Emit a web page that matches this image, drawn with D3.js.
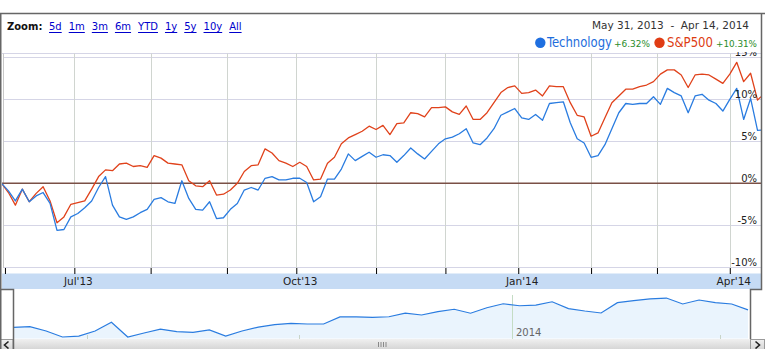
<!DOCTYPE html>
<html>
<head>
<meta charset="utf-8">
<script src="https://cdn.jsdelivr.net/npm/d3@7"></script>
<style>
  html, body { margin: 0; padding: 0; background: #fff; overflow: hidden; }
  svg { display: block; }
</style>
</head>
<body>
<svg id="chart" width="765" height="349"></svg>
<script>
(function () {
  'use strict';

  // --- data -----------------------------------------------------------------
  const START = '2013-05-31';
  const END = '2014-04-14';
  // market closures in the window (no point drawn on these days)
  const HOLIDAYS = ['2013-07-04', '2013-09-02', '2013-11-28', '2013-12-25',
                    '2014-01-01', '2014-01-20', '2014-02-17'];

  // % change since start, read every second trading day (+ last day)
  const TECH = [
    0, -0.9, -2.1, -0.7, -2.2, -1.5, -1.1, -2.4, -5.6, -5.5,
    -4.0, -3.6, -2.9, -2.1, -0.5, 0.8, -2.6, -4.0, -4.3, -4.0,
    -3.5, -3.1, -1.9, -1.7, -2.2, -2.4, 0.3, -1.8, -3.1, -3.2,
    -2.2, -4.2, -4.1, -3.1, -2.4, -0.8, -0.5, -0.8, 0.6, 0.8,
    0.4, 0.4, 0.6, 0.6, 0.1, -2.2, -1.6, 0.5, 0.5, 1.7,
    3.5, 2.7, 3.2, 3.7, 3.1, 3.4, 3.3, 2.5, 3.3, 4.2,
    3.5, 2.9, 3.8, 4.7, 5.3, 5.5, 5.9, 6.5, 4.8, 4.6,
    5.4, 6.5, 8.1, 8.5, 8.9, 7.8, 7.6, 8.2, 7.5, 9.5,
    9.6, 9.7, 7.2, 5.3, 4.8, 3.1, 3.3, 4.6, 6.5, 8.4,
    9.5, 9.4, 9.5, 9.5, 10.3, 9.4, 11.3, 10.8, 10.4, 8.4,
    10.4, 10.6, 9.9, 9.5, 8.6, 10.0, 11.3, 7.6, 10.1, 6.3,
    6.32
  ];
  const SPX = [
    0, -1.1, -2.6, -0.7, -2.2, -1.2, -0.4, -2.1, -4.7, -4.0,
    -2.5, -2.3, -2.1, -0.7, 0.8, 1.6, 1.5, 2.3, 2.4, 2.0,
    2.1, 1.9, 3.3, 3.0, 2.4, 2.3, 2.2, 0.3, -0.3, -0.4,
    0.3, -1.4, -1.3, -0.8, 0.0, 1.4, 2.1, 2.2, 4.1, 3.6,
    2.7, 2.4, 2.0, 2.5, 2.0, 0.4, 0.5, 2.4, 3.1, 4.7,
    5.4, 5.8, 6.2, 6.8, 6.4, 6.9, 5.8, 7.1, 7.2, 8.4,
    8.3, 7.9, 9.0, 9.0, 9.1, 8.5, 8.2, 9.2, 7.6, 7.6,
    8.4, 9.6, 10.8, 11.4, 11.6, 10.7, 10.8, 11.1, 10.4, 11.6,
    11.5, 11.5, 9.6, 8.1, 7.9, 5.6, 6.0, 7.8, 9.6, 10.4,
    11.2, 11.2, 11.5, 11.7, 12.1, 13.0, 13.5, 13.5, 12.9, 11.4,
    12.9, 13.0, 12.9, 12.4, 11.9, 13.0, 14.4, 12.1, 13.1, 9.9,
    10.31
  ];
  // navigator strip: weekly Technology
  const NAV_TECH = [
    0, 0.3, -1.7, -4.4, -4.0, -1.7, 2.3, -4.4, -2.6, -0.8,
    -2.0, -2.3, -1.2, -4.0, -1.7, 0.1, 1.2, 1.8, 1.5, 1.5,
    4.7, 4.7, 4.5, 4.8, 6.4, 5.6, 7.1, 8.2, 6.4, 8.9,
    10.7, 9.8, 10.1, 11.6, 8.5, 7.4, 6.5, 11.2, 12.1, 12.9,
    13.3, 10.6, 12.4, 11.2, 10.6, 7.9
  ];

  const Y_TICKS = [-10, -5, 0, 5, 10, 15];
  const ZOOM_LINKS = ['5d', '1m', '3m', '6m', 'YTD', '1y', '5y', '10y', 'All'];
  const SERIES_NAMES = ['Technology', 'S&P500'];
  const SERIES_CHANGE = ['+6.32%', '+10.31%'];
  const RANGE_LABEL = 'May 31, 2013  -  Apr 14, 2014';

  const BLUE = '#2a7ce0';
  const RED = '#e0421b';
  const VERDANA = 'Verdana, "DejaVu Sans", sans-serif';

  // --- dates ----------------------------------------------------------------
  const parse = d3.timeParse('%Y-%m-%d');
  const fmt = d3.timeFormat('%Y-%m-%d');
  const tradingDays = d3.timeDay
    .range(parse(START), d3.timeDay.offset(parse(END), 1))
    .filter(d => d.getDay() % 6 !== 0 && !HOLIDAYS.includes(fmt(d)));
  const sampleDays = tradingDays.filter((d, i) => i % 2 === 0 || i === tradingDays.length - 1);
  const monthStarts = tradingDays.filter((d, i) => i > 0 && d.getMonth() !== tradingDays[i - 1].getMonth());

  const svg = d3.select('#chart');
  const defs = svg.append('defs');

  // --- scales ---------------------------------------------------------------
  const x = d3.scalePoint().domain(tradingDays).range([1.5, 761]);
  const y = d3.scaleLinear().domain([-10, 15]).range([267.3, 57.3]);

  const plotTop = 53.5, plotBottom = 268;

  defs.append('clipPath').attr('id', 'plotclip')
    .append('rect').attr('x', 2).attr('y', plotTop)
    .attr('width', 759).attr('height', plotBottom - plotTop);
  defs.append('clipPath').attr('id', 'ylabclip')
    .append('rect').attr('x', 0).attr('y', 52).attr('width', 765).attr('height', 240);

  // grid
  const grid = svg.append('g');
  grid.selectAll('line.h').data(Y_TICKS).join('line')
    .attr('x1', 3).attr('x2', 761)
    .attr('y1', d => Math.round(y(d)) + 0.5).attr('y2', d => Math.round(y(d)) + 0.5)
    .attr('stroke', '#d5d5e6').attr('stroke-width', 1)
    .attr('clip-path', 'url(#plotclip)');
  grid.append('line')
    .attr('x1', 2).attr('x2', 761).attr('y1', plotTop).attr('y2', plotTop)
    .attr('stroke', '#d5d5e6');
  grid.selectAll('line.v').data(monthStarts.slice(1)).join('line')
    .attr('x1', d => Math.round(x(d)) + 0.5).attr('x2', d => Math.round(x(d)) + 0.5)
    .attr('y1', plotTop).attr('y2', plotBottom)
    .attr('stroke', '#d0d5d0');
  grid.append('line')
    .attr('x1', 3.5).attr('x2', 3.5).attr('y1', plotTop).attr('y2', plotBottom)
    .attr('stroke', '#c8c8c8');

  // zero line
  svg.append('line')
    .attr('x1', 2).attr('x2', 761).attr('y1', y(0)).attr('y2', y(0))
    .attr('stroke', '#7a5046').attr('stroke-width', 1.5);

  // series
  const line = d3.line()
    .x((d, i) => x(sampleDays[i]))
    .y(d => y(d));
  const lines = svg.append('g').attr('clip-path', 'url(#plotclip)');
  lines.append('path').datum(SPX).attr('d', line)
    .attr('fill', 'none').attr('stroke', RED).attr('stroke-width', 1.3)
    .attr('stroke-linejoin', 'round');
  lines.append('path').datum(TECH).attr('d', line)
    .attr('fill', 'none').attr('stroke', BLUE).attr('stroke-width', 1.3)
    .attr('stroke-linejoin', 'round');

  // y labels, on the right inside the plot (15% is cut by the header)
  svg.append('g').attr('clip-path', 'url(#ylabclip)')
    .selectAll('text').data(Y_TICKS).join('text')
    .attr('x', 757).attr('y', d => y(d) - 1.5)
    .attr('text-anchor', 'end')
    .attr('font-family', VERDANA).attr('font-size', 10)
    .attr('fill', '#222')
    .text(d => d + '%');

  // time axis band
  svg.append('rect').attr('x', 2).attr('y', 273.5).attr('width', 759).attr('height', 15.5)
    .attr('fill', '#c6dbf4');
  const axis = d3.axisBottom(x)
    .tickValues(monthStarts)
    .tickSize(6)
    .tickSizeOuter(0)
    .tickFormat(d => (d.getMonth() % 3 === 0 ? d3.timeFormat("%b'%y")(d) : ''));
  const ax = svg.append('g').attr('transform', `translate(0,${plotBottom})`).call(axis);
  ax.select('.domain').remove();
  ax.selectAll('.tick line').attr('stroke', '#000');
  ax.selectAll('.tick text')
    .attr('y', 17).attr('dy', 0).attr('dx', 3.5)
    .attr('font-family', VERDANA).attr('font-size', 10.5).attr('fill', '#222');

  // --- navigator ------------------------------------------------------------
  const nx = d3.scaleLinear().domain([0, NAV_TECH.length - 1]).range([13.5, 748]);
  const ny = d3.scaleLinear().domain([0, 10]).range([327.3, 305.3]);
  const nt = d3.scaleTime().domain([parse(START), parse(END)]).range([15, 750]);

  svg.append('path').datum(NAV_TECH)
    .attr('d', d3.area().x((d, i) => nx(i)).y0(338.5).y1(d => ny(d)))
    .attr('fill', '#eaf4fd');
  const quarterMarks = monthStarts.filter(d => d.getMonth() % 3 === 0)
    .map(d => d3.timeMonth.floor(d));
  svg.selectAll('line.nq').data(quarterMarks).join('line')
    .attr('x1', d => Math.round(nt(d)) + 0.5).attr('x2', d => Math.round(nt(d)) + 0.5)
    .attr('y1', d => d.getMonth() === 0 ? 295 : 335).attr('y2', 339)
    .attr('stroke', d => d.getMonth() === 0 ? '#c4dcc4' : '#c8d4c8');
  svg.append('text')
    .attr('x', nt(parse('2014-01-01')) + 4).attr('y', 336)
    .attr('font-family', VERDANA).attr('font-size', 10).attr('fill', '#666')
    .text('2014');
  svg.append('path').datum(NAV_TECH)
    .attr('d', d3.line().x((d, i) => nx(i)).y(d => ny(d)))
    .attr('fill', 'none').attr('stroke', BLUE).attr('stroke-width', 1.2);

  // scrollbar
  const sg = defs.append('linearGradient').attr('id', 'sbar')
    .attr('x1', 0).attr('x2', 0).attr('y1', 0).attr('y2', 1);
  sg.append('stop').attr('offset', 0).attr('stop-color', '#f0f0f0');
  sg.append('stop').attr('offset', 1).attr('stop-color', '#d6d6d6');
  svg.append('rect').attr('x', 13).attr('y', 339).attr('width', 738).attr('height', 10)
    .attr('fill', 'url(#sbar)');
  svg.append('rect').attr('x', 0.5).attr('y', 339.5).attr('width', 12.5).attr('height', 10)
    .attr('fill', 'url(#sbar)').attr('stroke', '#9a9a9a');
  svg.append('rect').attr('x', 750.5).attr('y', 339.5).attr('width', 14).attr('height', 10)
    .attr('fill', 'url(#sbar)').attr('stroke', '#9a9a9a');
  svg.append('path').attr('d', 'M8.5,341.5 L4.5,345 L8.5,348.5')
    .attr('fill', 'none').attr('stroke', '#222').attr('stroke-width', 1.6);
  svg.append('path').attr('d', 'M755.5,341.5 L759.5,345 L755.5,348.5')
    .attr('fill', 'none').attr('stroke', '#222').attr('stroke-width', 1.6);
  svg.selectAll('line.grip').data(d3.range(4)).join('line')
    .attr('x1', d => 378.5 + d * 2.5).attr('x2', d => 378.5 + d * 2.5)
    .attr('y1', 342).attr('y2', 347).attr('stroke', '#888');

  // frame
  svg.append('path')
    .attr('d', 'M0.75,349 V289.5 H13.5 V349 M0.75,289.5 V13.5 H765 M761.5,13.5 V289.5 H750.5 V339')
    .attr('fill', 'none').attr('stroke', '#666').attr('stroke-width', 1.5);

  // --- header ---------------------------------------------------------------
  svg.append('text').attr('x', 7).attr('y', 30)
    .attr('font-family', VERDANA).attr('font-size', 10).attr('font-weight', 'bold')
    .attr('fill', '#111').text('Zoom:');

  let lx = 49;
  ZOOM_LINKS.forEach(label => {
    const t = svg.append('text').attr('x', lx).attr('y', 30)
      .attr('font-family', VERDANA).attr('font-size', 10).attr('fill', '#0000cc')
      .text(label);
    const w = t.node().getComputedTextLength();
    svg.append('line').attr('x1', lx).attr('x2', lx + w).attr('y1', 32.5).attr('y2', 32.5)
      .attr('stroke', '#0000cc').attr('stroke-width', 1);
    lx += w + 7;
  });

  svg.append('text').attr('x', 592).attr('y', 29)
    .attr('font-family', VERDANA).attr('font-size', 10).attr('fill', '#333')
    .attr('textLength', 157).attr('lengthAdjust', 'spacingAndGlyphs')
    .style('white-space', 'pre')
    .text(RANGE_LABEL);

  // legend
  const LEGEND = [
    { dot: 540.3, name: 547, nameW: 65, chg: 614, chgW: 36, color: '#1e6ddc', dotColor: '#1f6fe0' },
    { dot: 659.5, name: 667, nameW: 46, chg: 716, chgW: 41, color: '#dd3c12', dotColor: '#e03c14' }
  ];
  LEGEND.forEach((l, i) => {
    svg.append('circle').attr('cx', l.dot).attr('cy', 42.7).attr('r', 5.2).attr('fill', l.dotColor);
    svg.append('text').attr('x', l.name).attr('y', 47.3)
      .attr('font-family', '"Liberation Sans Narrow", "Arial Narrow", "DejaVu Sans Condensed", sans-serif')
      .attr('font-size', 14).attr('fill', l.color)
      .attr('textLength', l.nameW).attr('lengthAdjust', 'spacingAndGlyphs')
      .text(SERIES_NAMES[i]);
    svg.append('text').attr('x', l.chg).attr('y', 47)
      .attr('font-family', VERDANA).attr('font-size', 9).attr('fill', '#2a8c2a')
      .attr('textLength', l.chgW).attr('lengthAdjust', 'spacingAndGlyphs')
      .text(SERIES_CHANGE[i]);
  });
})();
</script>
</body>
</html>
